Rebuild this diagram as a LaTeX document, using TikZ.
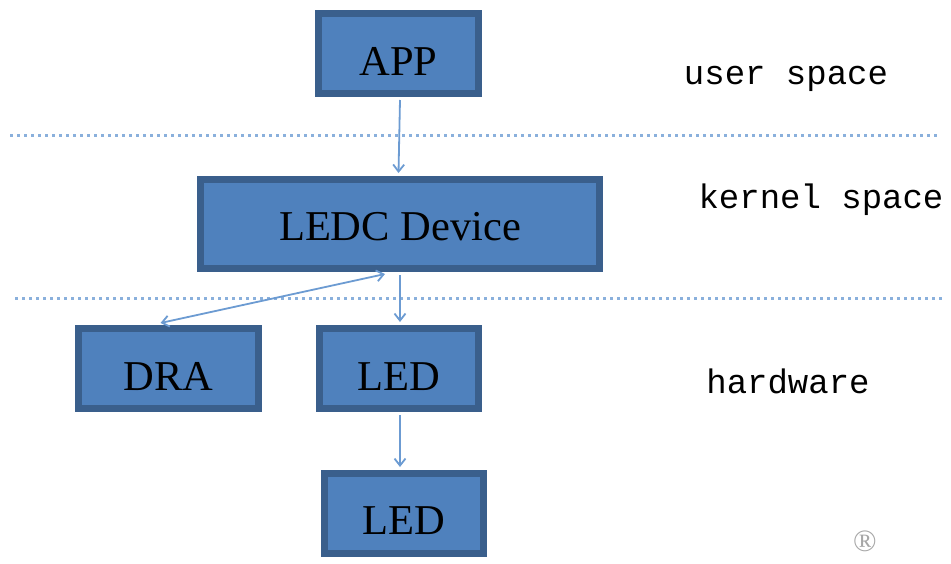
\documentclass[tikz,border=0pt]{standalone}
\usepackage{fontspec}
\setmainfont{Liberation Serif}
\setmonofont{Liberation Mono}
\usetikzlibrary{arrows.meta}
\definecolor{boxfill}{HTML}{4F81BD}
\definecolor{boxline}{HTML}{3A5F8C}
\definecolor{linkblue}{HTML}{6C9BD2}
\definecolor{dotblue}{HTML}{8AB0DC}
\begin{document}
\begin{tikzpicture}[x=1pt,y=-1pt,>={Straight Barb[length=7pt,width=11pt]},
    blk/.style={draw=boxline,fill=boxfill,line width=7pt,inner sep=0pt,text height=44pt,text depth=0pt,font=\fontsize{42.5}{48}\selectfont},
    link/.style={draw=linkblue,line width=1.8pt},
    sep/.style={draw=dotblue,line width=3pt,dash pattern=on 3pt off 4pt},
    zone/.style={font=\ttfamily\fontsize{34}{40}\selectfont}]
    \useasboundingbox (0,0) rectangle (951,563);
    % boxes
    \node[blk,minimum width=160pt,minimum height=80pt] (app) at (398.5,53.5) {APP};
    \node[blk,minimum width=399pt,minimum height=89pt,text height=32pt] (ledc) at (400,224) {LEDC Device};
    \node[blk,minimum width=180pt,minimum height=80pt] (dra) at (168.5,368.5) {DRA};
    \node[blk,minimum width=159pt,minimum height=80pt] (led) at (399,368.5) {LED};
    \node[blk,minimum width=159pt,minimum height=80pt,text height=41pt] (ledb) at (404,513.5) {LED};
    % layer borders
    \draw[sep] (10,135) -- (940,135);
    \draw[sep] (15,298) -- (945,298);
    % links
    \draw[link,->] ([xshift=1.5pt,yshift=-3pt]app.south) -- ([yshift=3pt]app.south |- ledc.north);
    \draw[link,->] ([yshift=-3pt]ledc.south) -- ([xshift=1pt,yshift=3pt]led.north);
    \draw[link,->] ([xshift=1pt,yshift=-3pt]led.south) -- ([xshift=-4pt,yshift=3pt]ledb.north);
    \draw[link,<->] ([xshift=-15pt,yshift=-2pt]ledc.south) -- ([xshift=-8pt,yshift=2pt]dra.north);
    % layer names
    \node[zone] (user) at (786,79) {user space};
    \node[zone] (kern) at (821,200) {kernel space};
    \node[zone] (hw) at (788,381) {hardware};
    \node[text=gray!70,inner sep=0pt,font=\fontsize{31}{33}\selectfont] (mark) at (865,541) {\textregistered};
\end{tikzpicture}
\end{document}
